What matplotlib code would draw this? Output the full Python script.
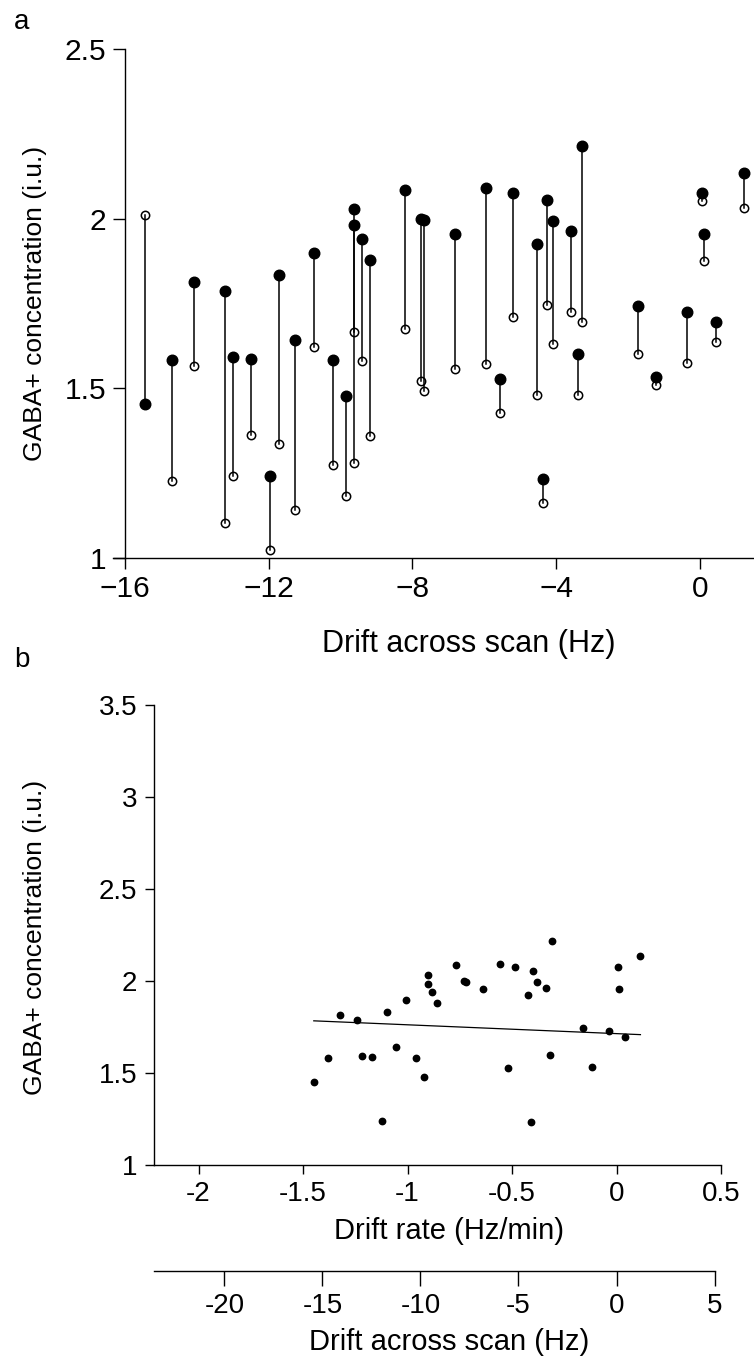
import numpy as np
import matplotlib
matplotlib.use("Agg")
import matplotlib.pyplot as plt

plt.rcParams['font.family'] = ['Liberation Sans', 'DejaVu Sans']

# drift across the scan (Hz) and GABA+ for each subject, two estimates each
drift_hz = [-15.44, -14.70, -14.08, -13.22, -12.98, -12.49, -11.96, -11.71, -11.27,
            -10.73, -10.21, -9.84, -9.63, -9.63, -9.39, -9.18, -8.21, -7.76, -7.69,
            -6.81, -5.96, -5.56, -5.19, -4.54, -4.37, -4.25, -4.08, -3.60, -3.39,
            -3.28, -1.72, -1.23, -0.37, 0.065, 0.11, 0.44, 1.22]
gaba_filled = [1.452, 1.583, 1.813, 1.787, 1.591, 1.587, 1.240, 1.834, 1.643,
               1.898, 1.583, 1.478, 2.030, 1.981, 1.939, 1.878, 2.086, 2.000, 1.995,
               1.956, 2.090, 1.526, 2.077, 1.925, 1.231, 2.055, 1.994, 1.964, 1.600,
               2.216, 1.743, 1.533, 1.726, 2.077, 1.956, 1.695, 2.134]
gaba_open = [2.010, 1.227, 1.564, 1.101, 1.240, 1.361, 1.023, 1.335, 1.140,
             1.621, 1.274, 1.183, 1.279, 1.665, 1.579, 1.360, 1.674, 1.522, 1.492,
             1.556, 1.570, 1.427, 1.709, 1.479, 1.162, 1.744, 1.631, 1.726, 1.479,
             1.696, 1.601, 1.509, 1.574, 2.051, 1.874, 1.635, 2.031]

scan_minutes = 10.66          # drift rate = drift / scan duration
fit_slope = -0.048            # regression line
fit_intercept = 1.714

xticks_a = [-16, -12, -8, -4, 0]
yticks_a = [1, 1.5, 2, 2.5]
xticks_b = [-2, -1.5, -1, -0.5, 0, 0.5]
yticks_b = [1, 1.5, 2, 2.5, 3, 3.5]
xticks_scan = [-20, -15, -10, -5, 0, 5]

W, H = 754, 1357
fig = plt.figure(figsize=(W / 100, H / 100), dpi=100)


def rect(left, right, top, bottom):
    return [left / W, 1 - bottom / H, (right - left) / W, (bottom - top) / H]


def hyphen(v):
    return ('%g' % v).replace('\u2212', '-')


TICK = 20
LAB = 21

# ---------------- panel a ----------------
ax = fig.add_axes(rect(113, 754, 32, 558.3))
for x, f, o in zip(drift_hz, gaba_filled, gaba_open):
    ax.plot([x, x], [f, o], color='black', lw=1.1, zorder=1)
ax.plot(drift_hz, gaba_open, 'o', ms=6, mfc='none', mec='black', mew=1.1, zorder=2)
ax.plot(drift_hz, gaba_filled, 'o', ms=7.6, color='black', zorder=3)

ax.set_xlim(-16.33, 1.5)
ax.set_ylim(0.998, 2.551)
ax.spines['top'].set_visible(False)
ax.spines['right'].set_visible(False)
ax.spines['left'].set_position(('data', -16))
ax.spines['left'].set_bounds(1, 2.5)
for s in ax.spines.values():
    s.set_linewidth(1.0)
ax.set_xticks(xticks_a, labels=['%g' % v if v >= 0 else '\u2212%g' % -v for v in xticks_a])
ax.set_yticks(yticks_a, labels=['%g' % v for v in yticks_a])
ax.tick_params(axis='x', length=8, width=1, pad=4, labelsize=21.5)
ax.tick_params(axis='y', length=8.6, width=1, pad=5, labelsize=21.5)

fig.text(469 / W, 1 - 652 / H, 'Drift across scan (Hz)', ha='center', va='baseline', fontsize=22)
fig.text(35 / W, 1 - 303 / H, 'GABA+ concentration (i.u.)', ha='center', va='center',
         rotation=90, fontsize=19)
fig.text(14 / W, 1 - 29 / H, 'a', ha='left', va='baseline', fontsize=20)

# ---------------- panel b ----------------
rate = np.array(drift_hz) / scan_minutes
bx = fig.add_axes(rect(154.4, 725.2, 695.8, 1165))
bx.plot(rate, gaba_filled, 'o', ms=4.6, color='black', zorder=3)
line_x = np.array([rate.min(), rate.max()])
bx.plot(line_x, fit_intercept + fit_slope * line_x, color='black', lw=0.9, zorder=2)

bx.set_xlim(-2.211, 0.52)
bx.set_ylim(1.0, 3.55)
bx.spines['top'].set_visible(False)
bx.spines['right'].set_visible(False)
bx.spines['bottom'].set_bounds(-2.211, 0.5)
bx.spines['left'].set_bounds(1, 3.5)
for s in bx.spines.values():
    s.set_linewidth(1.0)
bx.set_xticks(xticks_b, labels=[hyphen(v) for v in xticks_b])
bx.set_yticks(yticks_b, labels=[hyphen(v) for v in yticks_b])
bx.tick_params(axis='x', length=6.5, width=1, pad=5, labelsize=TICK)
bx.tick_params(axis='y', length=6.5, width=1, pad=6, labelsize=TICK)

fig.text(449.5 / W, 1 - 1239 / H, 'Drift rate (Hz/min)', ha='center', va='baseline', fontsize=LAB)
fig.text(35 / W, 1 - 937 / H, 'GABA+ concentration (i.u.)', ha='center', va='center',
         rotation=90, fontsize=19)
fig.text(14 / W, 1 - 667 / H, 'b', ha='left', va='baseline', fontsize=20)

# second scale under panel b: drift across the whole scan
sx = fig.add_axes(rect(154.4, 725.2, 1270.6, 1270.7))
sx.set_facecolor('none')
sx.set_xlim(-2.211 * scan_minutes, 0.52 * scan_minutes)
sx.set_yticks([])
for side in ['top', 'left', 'right']:
    sx.spines[side].set_visible(False)
sx.spines['bottom'].set_bounds(-2.211 * scan_minutes, 5)
sx.spines['bottom'].set_linewidth(1.0)
sx.set_xticks(xticks_scan, labels=[hyphen(v) for v in xticks_scan])
sx.tick_params(axis='x', length=11, width=1, pad=5, labelsize=TICK)

fig.text(449 / W, 1 - 1350 / H, 'Drift across scan (Hz)', ha='center', va='baseline', fontsize=LAB)

fig.savefig('out.png', dpi=100)
